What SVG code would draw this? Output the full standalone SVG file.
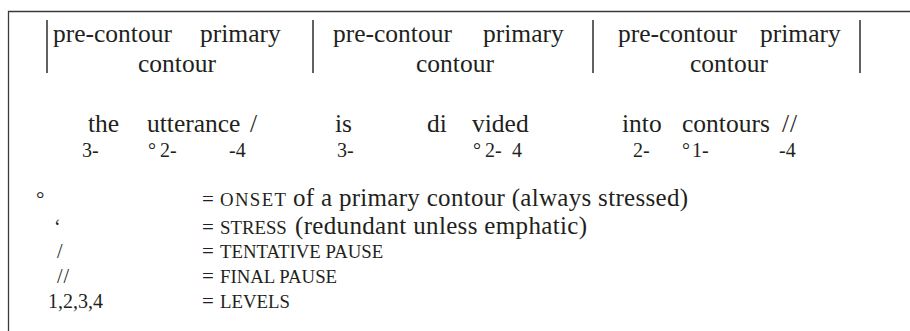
<svg xmlns="http://www.w3.org/2000/svg" width="910" height="331" viewBox="0 0 910 331">
<style>
text{font-family:"Liberation Serif","Times New Roman",serif;fill:#231f20;font-size:25.5px}
.num{font-size:20px}
.sym{font-size:20px}
.eq{font-size:21px}
.reg{font-size:25px}
.sc{font-size:18.8px}
.bar{stroke:#3a3a3a;stroke-width:1.6}
.frame{stroke:#3a3a3a;stroke-width:1.3;fill:none}
</style>
<rect width="910" height="331" fill="#fff"/>
<g id="frame">
<path class="frame" d="M8.5,331 V11.5 H910"/>
</g>
<g id="header">
<line class="bar" x1="47" y1="20" x2="47" y2="73"/>
<line class="bar" x1="313" y1="20" x2="313" y2="73"/>
<line class="bar" x1="593" y1="20" x2="593" y2="73"/>
<line class="bar" x1="860" y1="20" x2="860" y2="73"/>
<text x="53" y="42">pre-contour</text>
<text x="200" y="42">primary</text>
<text x="138" y="72">contour</text>
<text x="333" y="42">pre-contour</text>
<text x="483" y="42">primary</text>
<text x="416" y="72">contour</text>
<text x="618" y="42">pre-contour</text>
<text x="760" y="42">primary</text>
<text x="690" y="72">contour</text>
</g>
<g id="sentence">
<text x="88" y="132">the</text>
<text x="147" y="132">utterance</text>
<text x="250" y="132">/</text>
<text x="335" y="132">is</text>
<text x="427" y="132">di</text>
<text x="472" y="132">vided</text>
<text x="622" y="132">into</text>
<text x="682" y="132">contours</text>
<text x="782" y="132" letter-spacing="1">//</text>
</g>
<g id="levels">
<text class="num" x="82" y="157">3-</text>
<text class="num" x="148" y="157">°</text>
<text class="num" x="160" y="157">2-</text>
<text class="num" x="229" y="157">-4</text>
<text class="num" x="337" y="157">3-</text>
<text class="num" x="473" y="157">°</text>
<text class="num" x="485" y="157">2-</text>
<text class="num" x="512" y="157">4</text>
<text class="num" x="633" y="157">2-</text>
<text class="num" x="682" y="157">°</text>
<text class="num" x="692" y="157">1-</text>
<text class="num" x="779" y="157">-4</text>
</g>
<g id="legend">
<text class="eq" x="36" y="206">°</text>
<text class="sym" x="54" y="234">‘</text>
<text class="sym" x="57" y="258">/</text>
<text class="sym" x="57" y="283" letter-spacing="1">//</text>
<text class="sym" x="48" y="308">1,2,3,4</text>
<text y="206"><tspan class="eq" x="202">=</tspan><tspan class="sc" x="220" textLength="66">ONSET</tspan><tspan class="reg" x="293" textLength="395">of a primary contour (always stressed)</tspan></text>
<text y="234"><tspan class="eq" x="202">=</tspan><tspan class="sc" x="220">STRESS</tspan><tspan class="reg" x="295" textLength="292">(redundant unless emphatic)</tspan></text>
<text y="258"><tspan class="eq" x="202">=</tspan><tspan class="sc" x="220">TENTATIVE PAUSE</tspan></text>
<text y="283"><tspan class="eq" x="202">=</tspan><tspan class="sc" x="220">FINAL PAUSE</tspan></text>
<text y="308"><tspan class="eq" x="202">=</tspan><tspan class="sc" x="220">LEVELS</tspan></text>
</g>
</svg>
